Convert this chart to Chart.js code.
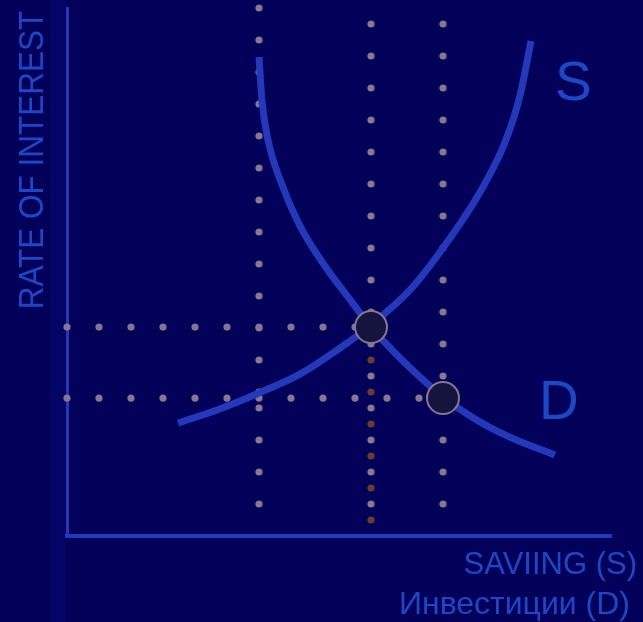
<!DOCTYPE html>
<html>
<head>
<meta charset="utf-8">
<title>Saving and investment</title>
<script src="https://cdn.jsdelivr.net/npm/chart.js@4"></script>
<style>
  html, body { margin: 0; padding: 0; }
  body {
    width: 643px;
    height: 622px;
    overflow: hidden;
    background: linear-gradient(to right, #020058 0px, #020058 50px, #040464 50px, #040464 66px, #020058 66px);
  }
  #wrap { position: relative; width: 643px; height: 622px; }
</style>
</head>
<body>
<div id="wrap"><canvas id="my-chart"></canvas></div>
<script>
'use strict';

// *** DATA ***

// supply of savings (S) and demand for investment (D)
let sX = [3.47, 4.69, 6, 7.28, 8.22, 8.84, 9.5, 10.72, 11.75, 12.91, 13.69, 14.16, 14.5];
let sY = [3.53, 3.94, 4.47, 5.06, 5.66, 6.09, 6.59, 7.69, 9.0, 10.75, 12.31, 13.78, 15.47];

let dX = [6, 6.09, 6.28, 6.66, 7.28, 8.06, 8.78, 9.5, 10.25, 11.03, 11.75, 12.75, 13.84, 15.25];
let dY = [14.97, 13.63, 12.38, 11.13, 9.69, 8.44, 7.47, 6.53, 5.72, 4.97, 4.34, 3.66, 3.09, 2.53];

// equilibrium points
let eqX = [9.5, 11.75];
let eqY = [6.53, 4.31];

// dotted guide lines
let guideCols = [6, 9.5, 11.75];
let col1Y = [16.5, 15.5, 14.5, 13.5, 12.5, 11.5, 10.5, 9.5, 8.5, 7.5, 6.5, 5.5, 4.5, 4, 3, 2, 1];
let col2Y = [16, 15, 14, 13, 12, 11, 10, 9, 8, 7, 6, 5, 4, 3, 2, 1];
let col2LowY = [6.5, 5.5, 4.5, 3.5, 2.5, 1.5, 0.5];
let col3Y = [16, 15, 14, 13, 12, 11, 10, 9, 8, 7, 6, 5, 4, 3, 2, 1];
let row1X = [0, 1, 2, 3, 4, 5, 6, 7, 8, 9];
let row2X = [0, 1, 2, 3, 4, 5, 6, 7, 8, 9, 10, 11];

// labels
let yTitle = 'RATE OF INTEREST';
let xTitle = ['SAVIING (S)', 'Инвестиции (D)'];
let curveNames = ['S', 'D'];

// *** HELPERS ***

function toPoints(xs, ys){
  let pts = [];
  for(let i = 0; i < xs.length; i++){
    pts.push({x: xs[i], y: ys[i]});
  }
  return pts;
}

function colPoints(x, ys){
  return ys.map(y => ({x: x, y: y}));
}

function rowPoints(xs, y){
  return xs.map(x => ({x: x, y: y}));
}

let dotGrey = '#8a7590';
let dotBrown = '#6c3936';
let curveBlue = '#2338bb';
let textBlue = '#1a48c6';
let font = '"Liberation Sans", Arial, sans-serif';

function dotSet(points, color){
  return {
    data: points,
    showLine: false,
    pointRadius: 3.6,
    pointBackgroundColor: color,
    pointBorderWidth: 0,
    clip: false,
    order: 3
  };
}

function curveSet(points){
  return {
    data: points,
    showLine: true,
    borderColor: curveBlue,
    borderWidth: 7,
    pointRadius: 0,
    cubicInterpolationMode: 'monotone',
    borderCapStyle: 'butt',
    clip: false,
    order: 2
  };
}

// *** TEXT PLUGIN ***

let textPlugin = {
  id: 'textPlugin',
  afterDraw(chart){
    let ctx = chart.ctx;
    let xs = chart.scales.x;
    let ys = chart.scales.y;
    ctx.save();
    ctx.fillStyle = textBlue;

    // y axis title, slightly squeezed like the original
    ctx.save();
    ctx.translate(43, 160);
    ctx.rotate(-Math.PI / 2);
    ctx.scale(0.9, 1);
    ctx.font = '35px ' + font;
    ctx.textAlign = 'center';
    ctx.textBaseline = 'alphabetic';
    ctx.fillText(yTitle, 0, 0);
    ctx.restore();

    // x axis titles
    ctx.font = '31px ' + font;
    ctx.textAlign = 'right';
    ctx.textBaseline = 'alphabetic';
    ctx.fillText(xTitle[0], 637, 574);
    ctx.font = '32px ' + font;
    ctx.fillText(xTitle[1], 630, 614);

    // curve names
    ctx.font = '55px ' + font;
    ctx.textAlign = 'left';
    ctx.fillText(curveNames[0], xs.getPixelForValue(15.25), ys.getPixelForValue(13.63));
    ctx.fillText(curveNames[1], xs.getPixelForValue(14.75), ys.getPixelForValue(3.66));
    ctx.restore();
  }
};

// *** CHART ***

let canvasElem = document.getElementById('my-chart');

let myObj = {
  type: 'scatter',
  data: {
    datasets: [
      {
        data: toPoints(eqX, eqY),
        showLine: false,
        pointRadius: 16,
        pointBackgroundColor: '#15143e',
        pointBorderColor: dotGrey,
        pointBorderWidth: 2,
        clip: false,
        order: 1
      },
      curveSet(toPoints(sX, sY)),
      curveSet(toPoints(dX, dY)),
      dotSet(colPoints(guideCols[0], col1Y), dotGrey),
      dotSet(colPoints(guideCols[1], col2LowY), dotBrown),
      dotSet(colPoints(guideCols[1], col2Y), dotGrey),
      dotSet(colPoints(guideCols[2], col3Y), dotGrey),
      dotSet(rowPoints(row1X, eqY[0]), dotGrey),
      dotSet(rowPoints(row2X, eqY[1]), dotGrey)
    ]
  },
  options: {
    responsive: true,
    maintainAspectRatio: false,
    animation: false,
    events: [],
    layout: {
      autoPadding: false,
      padding: {left: 67, top: 8, right: 32, bottom: 86}
    },
    plugins: {
      legend: {display: false},
      tooltip: {enabled: false}
    },
    scales: {
      x: {
        type: 'linear',
        min: 0,
        max: 17,
        z: 1,
        ticks: {display: false},
        grid: {display: false, drawTicks: false},
        border: {display: true, color: curveBlue, width: 4}
      },
      y: {
        type: 'linear',
        min: 0,
        max: 16.5,
        z: 1,
        ticks: {display: false},
        grid: {display: false, drawTicks: false},
        border: {display: true, color: curveBlue, width: 3}
      }
    }
  },
  plugins: [textPlugin]
};

new Chart(canvasElem, myObj);
</script>
</body>
</html>
